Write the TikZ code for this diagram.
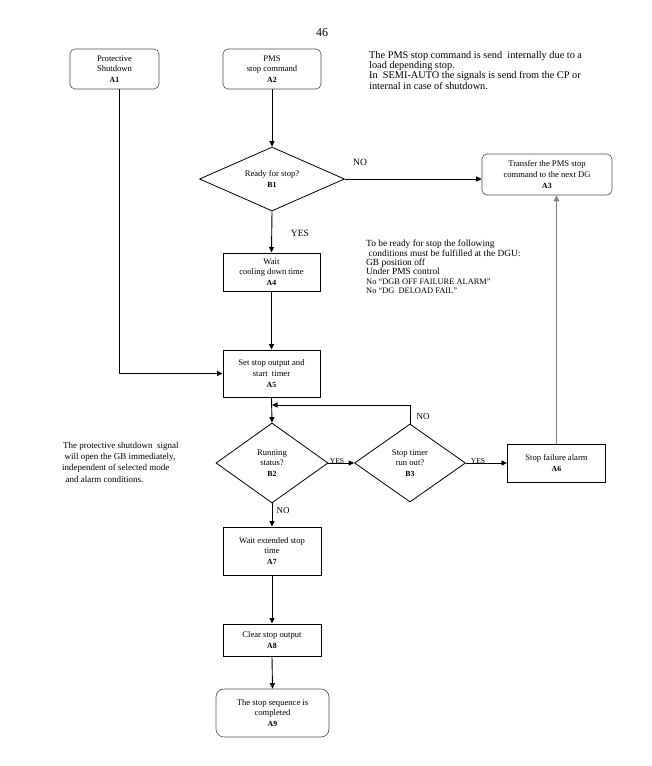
\documentclass[tikz,border=0pt]{standalone}
\usepackage{fontspec}
\setmainfont{Liberation Serif}
\usetikzlibrary{shapes.geometric,arrows.meta}
\newcommand{\Alab}[1]{{\bfseries\fontsize{7.8}{9}\selectfont #1}}
\tikzset{
  boxfont/.style={font=\fontsize{8.6}{10.6}\selectfont},
  rbox/.style={draw=black!70, line width=0.6pt, rounded corners=5pt, rectangle,
    inner sep=0pt, align=center, boxfont},
  sbox/.style={draw=black, line width=1pt, rectangle, inner sep=0pt,
    align=center, boxfont},
  dia/.style={draw=black, line width=0.8pt, diamond, inner sep=0pt,
    align=center, boxfont},
  arr/.style={line width=0.9pt, -{Triangle[length=5.5pt,width=5pt]}},
  greyarr/.style={draw=black!50, line width=1.6pt, -{Triangle[length=6pt,width=5.5pt]}},
  lbl/.style={font=\fontsize{9.6}{10}\selectfont, inner sep=0pt},
  smalllbl/.style={font=\fontsize{7.6}{8}\selectfont, inner sep=0pt, anchor=base},
  note/.style={align=left, inner sep=0pt, anchor=north west},
}
\begin{document}
\begin{tikzpicture}[x=1pt,y=-1pt]
\useasboundingbox (0,0) rectangle (652,766);

\node[font=\fontsize{12}{12}\selectfont, inner sep=0pt] (pg) at (322,33) {46};

% top boxes
\node[rbox, minimum width=89pt, minimum height=40pt] (A1) at (114.5,69)
  {Protective\\Shutdown\\\Alab{A1}};
\node[rbox, minimum width=98pt, minimum height=40pt] (A2) at (272,69)
  {PMS\\stop command\\\Alab{A2}};

\node[note, font=\fontsize{10.3}{10.3}\selectfont] (t1) at (369,51)
  {The PMS stop command is send\ \ internally due to a\\
   load depending stop.\\
   In\ \ SEMI-AUTO the signals is send from the CP or\\
   internal in case of shutdown.};

% decision B1
\node[dia, minimum width=145pt, minimum height=64pt, aspect=2.27] (B1) at (272,179)
  {Ready for stop?\\\Alab{B1}};
\node[rbox, minimum width=130pt, minimum height=41pt] (A3) at (547,174.5)
  {Transfer the PMS stop\\command to the next DG\\\Alab{A3}};
\node[lbl] (no1) at (360,162) {NO};
\node[lbl] (yes1) at (300,233) {YES};

\node[sbox, minimum width=97pt, minimum height=38pt] (A4) at (271.5,272)
  {Wait\\cooling down time\\\Alab{A4}};

\node[note, font=\fontsize{9.4}{9.3}\selectfont] (t2) at (366,240)
  {To be ready for stop the following\\
   \ conditions must be fulfilled at the DGU:\\
   GB position off\\
   Under PMS control\\
   {\fontsize{8.4}{8.6}\selectfont No “DGB OFF FAILURE ALARM”}\\
   {\fontsize{8.4}{8.6}\selectfont No “DG\ \ DELOAD FAIL”}};

\node[sbox, minimum width=97pt, minimum height=47pt] (A5) at (271.5,373.5)
  {Set stop output and\\start\ \ timer\\\Alab{A5}};

% loop decisions
\node[dia, minimum width=112pt, minimum height=80pt, aspect=1.4] (B2) at (272,463)
  {Running\\status?\\\Alab{B2}};
\node[dia, minimum width=111pt, minimum height=78pt, aspect=1.4] (B3) at (410,463)
  {Stop timer\\run out?\\\Alab{B3}};
\node[sbox, minimum width=98pt, minimum height=38pt] (A6) at (556.5,463)
  {Stop failure alarm\\\Alab{A6}};

\node[note, font=\fontsize{9}{11.2}\selectfont] (t3) at (63,442)
  {The protective shutdown\ \ signal\\
   \hspace*{1.5pt}will open the GB immediately,\\
   \hspace*{-1pt}independent of selected mode\\
   \hspace*{2.5pt}and alarm conditions.};

\node[smalllbl] (yes2) at (337,463.5) {YES};
\node[smalllbl] (yes3) at (478,463.5) {YES};
\node[lbl, font=\fontsize{9}{10}\selectfont] (no2) at (423,417) {NO};
\node[lbl, font=\fontsize{9}{10}\selectfont] (no3) at (283,511) {NO};

% lower boxes
\node[sbox, minimum width=98pt, minimum height=48pt] (A7) at (272,551)
  {Wait extended stop\\time\\\Alab{A7}};
\node[sbox, minimum width=98pt, minimum height=32pt] (A8) at (272,640)
  {Clear stop output\\\Alab{A8}};
\node[rbox, minimum width=113pt, minimum height=48pt, rounded corners=8pt] (A9) at (272.5,713)
  {The stop sequence is\\completed\\\Alab{A9}};

\coordinate (loopj) at (272,405);

% connectors
\draw[arr] ([xshift=4.5pt]A1.south) |- (A5.west);
\draw[arr] (A2.south) -- (B1.north);
\draw[arr] (B1.east) -- (B1.east -| A3.west);
\draw[arr] (B1.south) -- (A4.north);
\draw[arr] (A4.south) -- (A5.north);
\draw[arr] (A5.south) -- (B2.north);
\draw[arr] (B3.north) |- (loopj);
\draw[arr] (B2.east) -- (B3.west);
\draw[arr] (B3.east) -- (A6.west);
\draw[greyarr] (A6.north) -- (A6.north |- A3.south);
\draw[arr] (B2.south) -- (A7.north);
\draw[arr] (A7.south) -- (A8.north);
\draw[arr] (A8.south) -- (A9.north);
\end{tikzpicture}
\end{document}
